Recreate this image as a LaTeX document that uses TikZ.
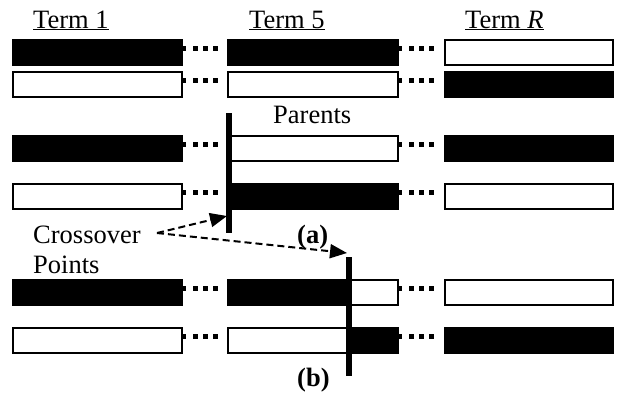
\documentclass[tikz,border=0pt]{standalone}
\usepackage{fontspec}
\setmainfont{Liberation Serif}
\usetikzlibrary{arrows.meta}
\begin{document}
\begin{tikzpicture}[x=1pt,y=-1pt,
  box/.style={draw=black,line width=1.8pt,inner sep=0pt,outer sep=0pt,anchor=north west,minimum height=25pt},
  blk/.style={box,fill=black},
  wht/.style={box,fill=white},
  dotline/.style={line width=5pt,dash pattern=on 4pt off 7pt on 5pt off 5pt on 5pt off 5pt on 5pt off 60pt},
  xline/.style={line width=5.5pt},
  lbl/.style={anchor=base west,inner sep=0pt,font=\fontsize{26.5}{30}\selectfont},
  arr/.style={line width=2pt,dash pattern=on 7pt off 4pt,-{Triangle[length=17pt,width=14pt]}}
]
\useasboundingbox (0,0) rectangle (620,392);

% headings
\node[lbl] (h1) at (33,28) {\underline{Term 1}};
\node[lbl] (h2) at (249,28) {\underline{Term 5}};
\node[lbl] (h3) at (465,28) {\underline{Term \textit{R}}};

% parents
\node[blk,minimum width=169pt] (r1c1) at (13,40) {};
\node[blk,minimum width=170pt] (r1c2) at (228,40) {};
\node[wht,minimum width=168pt] (r1c3) at (445,40) {};
\node[wht,minimum width=169pt] (r2c1) at (13,72) {};
\node[wht,minimum width=170pt] (r2c2) at (228,72) {};
\node[blk,minimum width=168pt] (r2c3) at (445,72) {};
\draw[dotline] ([yshift=4pt]r1c1.east) -- ([yshift=4pt]r1c2.west);
\draw[dotline] ([yshift=4pt]r1c2.east) -- ([yshift=4pt]r1c3.west);
\draw[dotline] ([yshift=4pt]r2c1.east) -- ([yshift=4pt]r2c2.west);
\draw[dotline] ([yshift=4pt]r2c2.east) -- ([yshift=4pt]r2c3.west);

\node[lbl] (par) at (273,123) {Parents};

% (a)
\node[blk,minimum width=169pt] (r3c1) at (13,136) {};
\node[wht,minimum width=169pt] (r3c2) at (229,136) {};
\node[blk,minimum width=168pt] (r3c3) at (445,136) {};
\node[wht,minimum width=169pt] (r4c1) at (13,184) {};
\node[blk,minimum width=169pt] (r4c2) at (229,184) {};
\node[wht,minimum width=168pt] (r4c3) at (445,184) {};
\draw[dotline] ([yshift=4pt]r3c1.east) -- ([yshift=4pt]r3c2.west);
\draw[dotline] ([yshift=4pt]r3c2.east) -- ([yshift=4pt]r3c3.west);
\draw[dotline] ([yshift=4pt]r4c1.east) -- ([yshift=4pt]r4c2.west);
\draw[dotline] ([yshift=4pt]r4c2.east) -- ([yshift=4pt]r4c3.west);
\coordinate (xa1) at (229,113);
\coordinate (xa2) at (229,233);
\draw[xline] (xa1) -- (xa2);
\node[lbl,font=\fontsize{26.5}{30}\selectfont\bfseries] (la) at (297,243) {(a)};

% (b)
\node[blk,minimum width=169pt] (r5c1) at (13,280) {};
\node[blk,minimum width=121pt] (r5c2) at (228,280) {};
\node[wht,minimum width=49pt] (r5c2b) at (349,280) {};
\node[wht,minimum width=168pt] (r5c3) at (445,280) {};
\node[wht,minimum width=169pt] (r6c1) at (13,328) {};
\node[wht,minimum width=121pt] (r6c2) at (228,328) {};
\node[blk,minimum width=49pt] (r6c2b) at (349,328) {};
\node[blk,minimum width=168pt] (r6c3) at (445,328) {};
\draw[dotline] ([yshift=4pt]r5c1.east) -- ([yshift=4pt]r5c2.west);
\draw[dotline] ([yshift=4pt]r5c2b.east) -- ([yshift=4pt]r5c3.west);
\draw[dotline] ([yshift=4pt]r6c1.east) -- ([yshift=4pt]r6c2.west);
\draw[dotline] ([yshift=4pt]r6c2b.east) -- ([yshift=4pt]r6c3.west);
\coordinate (xb1) at (349,257);
\coordinate (xb2) at (349,376);
\draw[xline] (xb1) -- (xb2);
\node[lbl,font=\fontsize{26.5}{30}\selectfont\bfseries] (lb) at (297,386) {(b)};

% crossover points label and arrows
\node[lbl] (co) at (33,243) {Crossover};
\node[lbl] (pts) at (33,273) {Points};
\coordinate (cs) at (157,233);
\coordinate (ta) at (227,216);
\coordinate (tb) at (347,253);
\draw[arr] (cs) -- (ta);
\draw[arr] (cs) -- (tb);
\end{tikzpicture}
\end{document}
